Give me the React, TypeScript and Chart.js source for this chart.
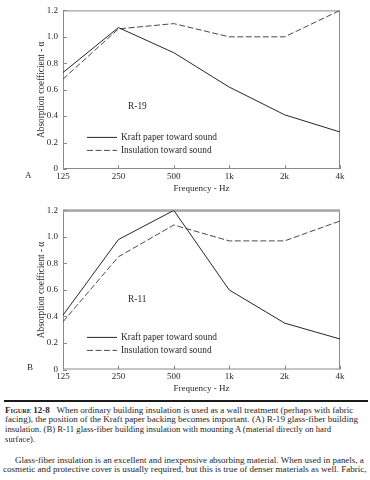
import React, { useEffect, useLayoutEffect, useRef } from "react";
import { Chart, registerables } from "chart.js";

Chart.register(...registerables);

const frequencies = ["125", "250", "500", "1k", "2k", "4k"];
const kraftA = [0.73, 1.07, 0.88, 0.62, 0.41, 0.28];
const insulationA = [0.68, 1.06, 1.1, 1.0, 1.0, 1.2];
const kraftB = [0.41, 0.98, 1.2, 0.6, 0.35, 0.23];
const insulationB = [0.36, 0.85, 1.09, 0.97, 0.97, 1.12];
const seriesNames = ["Kraft paper toward sound", "Insulation toward sound"];
const yMin = 0;
const yMax = 1.2;
const yStep = 0.2;

const SERIF = "'Liberation Serif', 'Times New Roman', serif";
const TEXT = "#2a2a2a";

const framePlugin = {
  id: "frameTicks",
  beforeDatasetsDraw(chart: any) {
    const { ctx, chartArea, scales } = chart;
    const o = chart.options.plugins.frameTicks || {};
    ctx.save();
    ctx.strokeStyle = "#8a8a8a";
    ctx.lineWidth = 1;
    ctx.strokeRect(chartArea.left + 0.5, chartArea.top + 0.5, chartArea.right - chartArea.left - 1, chartArea.bottom - chartArea.top - 1);
    if (o.thickTop) {
      ctx.strokeStyle = "#a8a8a8";
      ctx.lineWidth = 2.5;
      ctx.beginPath();
      ctx.moveTo(chartArea.left, chartArea.top);
      ctx.lineTo(chartArea.right, chartArea.top);
      ctx.stroke();
    }
    ctx.strokeStyle = "#8a8a8a";
    ctx.lineWidth = 1;
    const y = scales.y;
    y.ticks.forEach((t: any) => {
      const py = Math.round(y.getPixelForValue(t.value)) + 0.5;
      ctx.beginPath();
      ctx.moveTo(chartArea.left, py);
      ctx.lineTo(chartArea.left + 4, py);
      ctx.stroke();
    });
    const x = scales.x;
    x.ticks.forEach((_t: any, i: number) => {
      const px = Math.round(x.getPixelForTick(i)) + 0.5;
      ctx.beginPath();
      ctx.moveTo(px, chartArea.bottom);
      ctx.lineTo(px, chartArea.bottom - 4);
      ctx.stroke();
    });
    ctx.restore();
  },
};

const legendPlugin = {
  id: "innerLegend",
  afterDatasetsDraw(chart: any) {
    const { ctx, chartArea } = chart;
    const o = chart.options.plugins.innerLegend || {};
    ctx.save();
    ctx.font = `9.4px ${SERIF}`;
    ctx.textBaseline = "middle";
    ctx.fillStyle = TEXT;
    chart.data.datasets.forEach((ds: any, i: number) => {
      const yy = chartArea.top + 127 + i * 13;
      ctx.strokeStyle = ds.borderColor;
      ctx.lineWidth = 1;
      ctx.setLineDash(ds.borderDash || []);
      ctx.beginPath();
      ctx.moveTo(chartArea.left + 24, yy);
      ctx.lineTo(chartArea.left + 54, yy);
      ctx.stroke();
      ctx.setLineDash([]);
      ctx.fillText(ds.label, chartArea.left + 58, yy);
    });
    if (o.title) {
      ctx.fillText(o.title, chartArea.left + 65, chartArea.top + o.titleDy);
    }
    ctx.restore();
  },
};

function FreqChart(props: { kraft: number[]; insulation: number[]; title: string; titleDy: number; topPad: number; xHeight: number; thickTop?: boolean }) {
  const ref = useRef<HTMLCanvasElement>(null);
  useEffect(() => {
    const chart = new Chart(ref.current!, {
      type: "line",
      data: {
        labels: frequencies,
        datasets: [
          { label: seriesNames[0], data: props.kraft, borderColor: "#262626", borderWidth: 1, pointRadius: 0, tension: 0, fill: false },
          { label: seriesNames[1], data: props.insulation, borderColor: "#4a4a4a", borderWidth: 1, borderDash: [6, 2.5], pointRadius: 0, tension: 0, fill: false },
        ],
      },
      options: {
        animation: false,
        responsive: false,
        devicePixelRatio: 1,
        layout: { padding: { left: 0, right: 30, top: props.topPad, bottom: 0 } },
        plugins: {
          legend: { display: false },
          tooltip: { enabled: false },
          frameTicks: { thickTop: !!props.thickTop },
          innerLegend: { title: props.title, titleDy: props.titleDy },
        } as any,
        scales: {
          x: {
            type: "category",
            offset: false,
            border: { display: false },
            grid: { display: false, drawTicks: false },
            ticks: { padding: 2, color: TEXT, font: { family: SERIF, size: 9 }, maxRotation: 0, autoSkip: false },
            title: { display: true, text: "Frequency - Hz", color: TEXT, font: { family: SERIF, size: 9 }, padding: { top: 0, bottom: 6.3 } },
            afterFit(scale: any) {
              scale.height = props.xHeight;
            },
          },
          y: {
            min: yMin,
            max: yMax,
            border: { display: false },
            grid: { display: false, drawTicks: false },
            ticks: {
              stepSize: yStep,
              padding: 5,
              color: TEXT,
              font: { family: SERIF, size: 9 },
              callback: (v: any) => (Number(v) === 0 ? "0" : Number(v).toFixed(1)),
            },
            title: { display: true, text: "Absorption coefficient - α", color: TEXT, font: { family: SERIF, size: 9.3 }, padding: { top: 36.4, bottom: 0 } },
            afterFit(scale: any) {
              scale.width = 63;
            },
          },
        },
      } as any,
      plugins: [framePlugin, legendPlugin],
    });
    return () => chart.destroy();
  }, []);
  return <canvas ref={ref} width={370} height={200} style={{ display: "block", width: 370, height: 200 }} />;
}

function FitLine(props: { x: number; y: number; width?: number; indent?: number; children: React.ReactNode }) {
  const ref = useRef<HTMLDivElement>(null);
  useLayoutEffect(() => {
    const el = ref.current;
    if (!el || !props.width) return;
    const w = el.scrollWidth;
    if (w > 0) el.style.transform = `scaleX(${props.width / w})`;
  }, []);
  return (
    <div
      ref={ref}
      style={{
        position: "absolute",
        left: props.x,
        top: props.y - 5.5,
        whiteSpace: "nowrap",
        fontFamily: SERIF,
        fontSize: 8.7,
        lineHeight: "11px",
        color: "#1e1e1e",
        transformOrigin: "0 0",
        display: "inline-block",
      }}
    >
      {props.children}
    </div>
  );
}

export default function App() {
  return (
    <div style={{ position: "fixed", left: 0, top: 0, width: 370, height: 480, background: "#fff", overflow: "hidden" }}>
      <div style={{ position: "absolute", left: 0, top: 0 }}>
        <FreqChart kraft={kraftA} insulation={insulationA} title="R-19" titleDy={96} topPad={6} xHeight={31} />
      </div>
      <div style={{ position: "absolute", left: 0, top: 200 }}>
        <FreqChart kraft={kraftB} insulation={insulationB} title="R-11" titleDy={89} topPad={7.5} xHeight={30.5} thickTop />
      </div>
      <div style={{ position: "absolute", left: 25, top: 170, fontFamily: SERIF, fontSize: 9, color: TEXT }}>A</div>
      <div style={{ position: "absolute", left: 27, top: 362, fontFamily: SERIF, fontSize: 9, color: TEXT }}>B</div>
      <div style={{ position: "absolute", left: 4, top: 400, width: 364, height: 2, background: "#1a1a1a" }} />
      <FitLine x={5} y={410} width={348}>
        <b style={{ fontVariant: "small-caps" }}>Figure 12-8</b>
        {"\u00a0\u00a0\u00a0When ordinary building insulation is used as a wall treatment (perhaps with fabric"}
      </FitLine>
      <FitLine x={5} y={419.5} width={353}>
        facing), the position of the Kraft paper backing becomes important. (A) R-19 glass-fiber building
      </FitLine>
      <FitLine x={5} y={429} width={326}>
        insulation. (B) R-11 glass-fiber building insulation with mounting A (material directly on hard
      </FitLine>
      <FitLine x={5} y={439}>surface).</FitLine>
      <FitLine x={15} y={460} width={349}>
        Glass-fiber insulation is an excellent and inexpensive absorbing material. When used in panels, a
      </FitLine>
      <FitLine x={3} y={469.5} width={364}>
        cosmetic and protective cover is usually required, but this is true of denser materials as well. Fabric,
      </FitLine>
    </div>
  );
}
